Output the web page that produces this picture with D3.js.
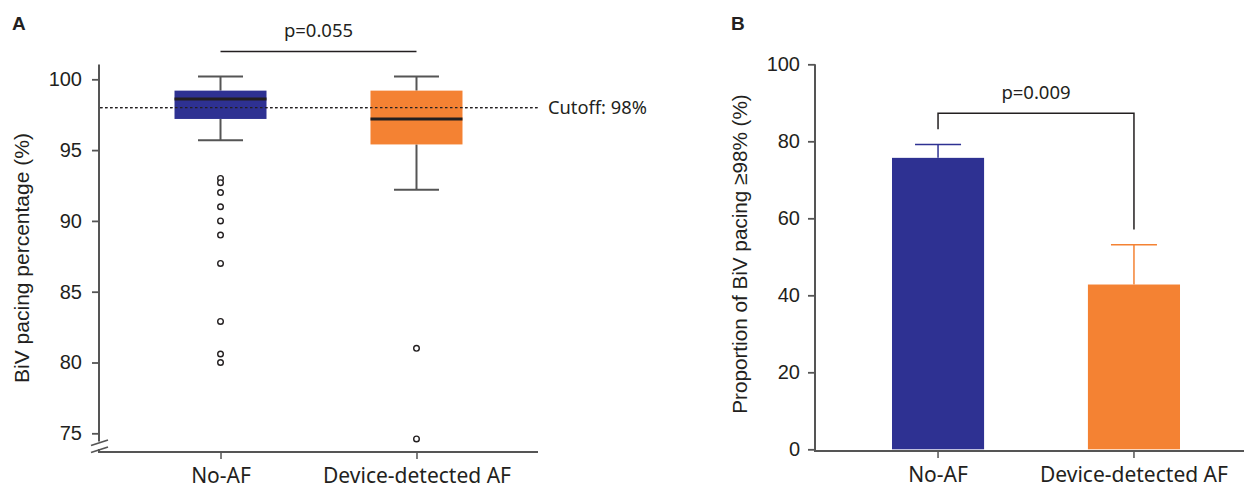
<!DOCTYPE html>
<html><head><meta charset="utf-8">
<script src="https://cdn.jsdelivr.net/npm/d3@7"></script>
<style>
html,body{margin:0;padding:0;background:#fff;}
svg{display:block;}
</style></head>
<body>
<svg id="chart" width="1244" height="488"></svg>
<script>
// ---------- DATA ----------
const categories = ["No-AF", "Device-detected AF"];
// Panel A: box plot stats (whiskerLow, q1, median, q3, whiskerHigh)
const whiskerLow = [95.7, 92.2];
const q1 = [97.2, 95.4];
const medians = [98.6, 97.2];
const q3 = [99.2, 99.2];
const whiskerHigh = [100.2, 100.2];
const outliersNoAF = [93.0, 92.7, 92.0, 91.0, 90.0, 89.0, 87.0, 82.9, 80.6, 80.0];
const outliersAF = [81.0, 74.6];
const cutoff = 98;
const tickValuesA = [75, 80, 85, 90, 95, 100];
const pValueA = "p=0.055";
// Panel B: proportion with BiV pacing >= 98%
const proportions = [75.7, 42.8];
const errorUpper = [79.2, 53.1];
const tickValuesB = [0, 20, 40, 60, 80, 100];
const pValueB = "p=0.009";
const bracketB = 87.3;

const colors = ["#2E3192", "#F48233"];
const axisColor = "#555555";
const textColor = "#231F20";
const numFont = "'Liberation Sans', Arial, sans-serif";
const lblFont = "'Noto Sans', 'Open Sans', sans-serif";

const svg = d3.select("#chart");

// ---------- PANEL A ----------
const yA = d3.scaleLinear().domain([75, 100]).range([433.3, 79.3]);
const xA = d3.scalePoint().domain(categories).range([99, 538]).padding(0.62);
const boxW = 92, capW = 45;
const axisXA = 99, baseA = 452;

const gA = svg.append("g");

// y axis ticks
const axA = d3.axisLeft(yA).tickValues(tickValuesA).tickSize(7).tickPadding(10).tickSizeOuter(0);
const gyA = gA.append("g").attr("transform", `translate(${axisXA},0)`).call(axA);
gyA.select(".domain").remove();
gyA.selectAll(".tick line").attr("stroke", axisColor).attr("stroke-width", 1.8);
gyA.selectAll(".tick text").attr("fill", textColor).style("font-family", numFont).style("font-size", "20px");

// y axis line with break
gA.append("line").attr("x1", axisXA).attr("x2", axisXA).attr("y1", yA(101.05)).attr("y2", 441.5)
  .attr("stroke", axisColor).attr("stroke-width", 2);
gA.append("line").attr("x1", axisXA).attr("x2", axisXA).attr("y1", 449).attr("y2", baseA)
  .attr("stroke", axisColor).attr("stroke-width", 2);
gA.append("line").attr("x1", 91).attr("x2", 108).attr("y1", 445.5).attr("y2", 440)
  .attr("stroke", axisColor).attr("stroke-width", 1.8);
gA.append("line").attr("x1", 91).attr("x2", 108).attr("y1", 452.5).attr("y2", 447)
  .attr("stroke", axisColor).attr("stroke-width", 1.8);

// x axis
gA.append("line").attr("x1", axisXA - 1).attr("x2", 538).attr("y1", baseA).attr("y2", baseA)
  .attr("stroke", axisColor).attr("stroke-width", 2);
const axXA = d3.axisBottom(xA).tickSize(7).tickPadding(9).tickSizeOuter(0);
const gxA = gA.append("g").attr("transform", `translate(0,${baseA})`).call(axXA);
gxA.select(".domain").remove();
gxA.selectAll(".tick line").attr("stroke", axisColor).attr("stroke-width", 1.5);
gxA.selectAll(".tick text").attr("fill", textColor).style("font-family", lblFont).style("font-size", "21px");

// cutoff line
gA.append("line").attr("x1", axisXA + 1).attr("x2", 538).attr("y1", yA(cutoff)).attr("y2", yA(cutoff))
  .attr("stroke", "#231F20").attr("stroke-width", 1.3).attr("stroke-dasharray", "2.5,2.5");
gA.append("text").attr("x", 548).attr("y", yA(cutoff)).attr("dy", "0.35em")
  .attr("fill", textColor).style("font-family", lblFont).style("font-size", "18.3px").text("Cutoff: 98%");

// boxes
categories.forEach((c, i) => {
  const cx = xA(c);
  const g = gA.append("g");
  g.append("line").attr("x1", cx).attr("x2", cx).attr("y1", yA(whiskerHigh[i])).attr("y2", yA(q3[i]))
    .attr("stroke", axisColor).attr("stroke-width", 2);
  g.append("line").attr("x1", cx).attr("x2", cx).attr("y1", yA(q1[i])).attr("y2", yA(whiskerLow[i]))
    .attr("stroke", axisColor).attr("stroke-width", 2);
  g.append("line").attr("x1", cx - capW / 2).attr("x2", cx + capW / 2).attr("y1", yA(whiskerHigh[i])).attr("y2", yA(whiskerHigh[i]))
    .attr("stroke", axisColor).attr("stroke-width", 2);
  g.append("line").attr("x1", cx - capW / 2).attr("x2", cx + capW / 2).attr("y1", yA(whiskerLow[i])).attr("y2", yA(whiskerLow[i]))
    .attr("stroke", axisColor).attr("stroke-width", 2);
  g.append("rect").attr("x", cx - boxW / 2).attr("width", boxW)
    .attr("y", yA(q3[i])).attr("height", yA(q1[i]) - yA(q3[i])).attr("fill", colors[i]);
  g.append("line").attr("x1", cx - boxW / 2).attr("x2", cx + boxW / 2).attr("y1", yA(medians[i])).attr("y2", yA(medians[i]))
    .attr("stroke", "#231F20").attr("stroke-width", 3);
});
// cutoff drawn again over the boxes
gA.append("line").attr("x1", axisXA + 1).attr("x2", 538).attr("y1", yA(cutoff)).attr("y2", yA(cutoff))
  .attr("stroke", "#231F20").attr("stroke-width", 1.3).attr("stroke-dasharray", "2.5,2.5");

// outliers
const outs = [outliersNoAF, outliersAF];
outs.forEach((arr, i) => {
  gA.selectAll(null).data(arr).enter().append("circle")
    .attr("cx", xA(categories[i])).attr("cy", d => yA(d)).attr("r", 2.8)
    .attr("fill", "#fff").attr("stroke", "#231F20").attr("stroke-width", 1.4);
});

// p-value bracket
gA.append("line").attr("x1", xA(categories[0])).attr("x2", xA(categories[1])).attr("y1", 51.5).attr("y2", 51.5)
  .attr("stroke", "#231F20").attr("stroke-width", 1.5);
gA.append("text").attr("x", (xA(categories[0]) + xA(categories[1])) / 2).attr("y", 37)
  .attr("text-anchor", "middle").attr("fill", textColor).style("font-family", lblFont).style("font-size", "18.5px").text(pValueA);

// y title
gA.append("text").attr("transform", `translate(29,${258}) rotate(-90)`).attr("text-anchor", "middle")
  .attr("fill", textColor).style("font-family", numFont).style("font-size", "21px").text("BiV pacing percentage (%)");
// panel letter
gA.append("text").attr("x", 12).attr("y", 30).attr("fill", textColor)
  .style("font-family", numFont).style("font-weight", "bold").style("font-size", "19px").text("A");

// ---------- PANEL B ----------
const yB = d3.scaleLinear().domain([0, 100]).range([449.3, 64.3]);
const xB = d3.scaleBand().domain(categories).range([815, 1257]).paddingInner(0.53).paddingOuter(0.393);
const axisXB = 815, baseB = 450;
const gB = svg.append("g");

const axB = d3.axisLeft(yB).tickValues(tickValuesB).tickSize(7).tickPadding(8).tickSizeOuter(0);
const gyB = gB.append("g").attr("transform", `translate(${axisXB},0)`).call(axB);
gyB.select(".domain").remove();
gyB.selectAll(".tick line").attr("stroke", axisColor).attr("stroke-width", 1.8);
gyB.selectAll(".tick text").attr("fill", textColor).style("font-family", numFont).style("font-size", "20px");
gB.append("line").attr("x1", axisXB).attr("x2", axisXB).attr("y1", yB(100)).attr("y2", baseB)
  .attr("stroke", axisColor).attr("stroke-width", 2);

// bars
gB.selectAll(".bar").data(categories).enter().append("rect")
  .attr("x", d => xB(d)).attr("width", xB.bandwidth())
  .attr("y", (d, i) => yB(proportions[i])).attr("height", (d, i) => yB(0) - yB(proportions[i]))
  .attr("fill", (d, i) => colors[i]);

// error bars
categories.forEach((c, i) => {
  const cx = xB(c) + xB.bandwidth() / 2;
  gB.append("line").attr("x1", cx).attr("x2", cx).attr("y1", yB(errorUpper[i])).attr("y2", yB(proportions[i]))
    .attr("stroke", colors[i]).attr("stroke-width", 1.5);
  gB.append("line").attr("x1", cx - 23).attr("x2", cx + 23).attr("y1", yB(errorUpper[i])).attr("y2", yB(errorUpper[i]))
    .attr("stroke", colors[i]).attr("stroke-width", 1.5);
});

// x axis
gB.append("line").attr("x1", axisXB - 1).attr("x2", 1244).attr("y1", baseB + 1).attr("y2", baseB + 1)
  .attr("stroke", axisColor).attr("stroke-width", 2);
const axXB = d3.axisBottom(xB).tickSize(7).tickPadding(9).tickSizeOuter(0);
const gxB = gB.append("g").attr("transform", `translate(0,${baseB + 1})`).call(axXB);
gxB.select(".domain").remove();
gxB.selectAll(".tick line").attr("stroke", axisColor).attr("stroke-width", 1.5);
gxB.selectAll(".tick text").attr("fill", textColor).style("font-family", lblFont).style("font-size", "21px");

// bracket
const cx0 = xB(categories[0]) + xB.bandwidth() / 2, cx1 = xB(categories[1]) + xB.bandwidth() / 2;
gB.append("path")
  .attr("d", `M${cx0},${yB(83.1)}V${yB(bracketB)}H${cx1}V${yB(57.1)}`)
  .attr("fill", "none").attr("stroke", "#231F20").attr("stroke-width", 1.5);
gB.append("text").attr("x", (cx0 + cx1) / 2).attr("y", 99)
  .attr("text-anchor", "middle").attr("fill", textColor).style("font-family", lblFont).style("font-size", "18.5px").text(pValueB);

gB.append("text").attr("transform", `translate(747,${254}) rotate(-90)`).attr("text-anchor", "middle")
  .attr("fill", textColor).style("font-family", numFont).style("font-size", "20.7px").text("Proportion of BiV pacing ≥98% (%)");
gB.append("text").attr("x", 731).attr("y", 30).attr("fill", textColor)
  .style("font-family", numFont).style("font-weight", "bold").style("font-size", "19px").text("B");
</script>
</body></html>
